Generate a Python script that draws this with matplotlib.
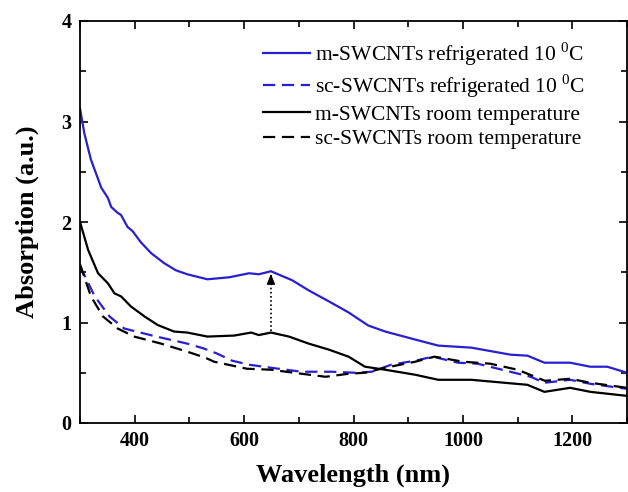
import numpy as np
import matplotlib
matplotlib.use("Agg")
import matplotlib.pyplot as plt
from matplotlib.ticker import MultipleLocator

plt.rcParams['font.family'] = ['Liberation Serif', 'DejaVu Serif']
plt.rcParams['mathtext.fontset'] = 'custom'
plt.rcParams['mathtext.rm'] = 'Liberation Serif'

# m-SWCNTs refrigerated 10 °C
wl_m_ref = [300, 308, 320, 339, 351, 357, 369, 375, 387, 396, 411, 430, 454, 475, 496, 533, 573, 609, 627, 649,
            688, 718, 755, 791, 827, 858, 913, 955, 1015, 1087, 1118, 1149, 1196, 1233, 1264, 1300]
ab_m_ref = [3.13, 2.88, 2.62, 2.34, 2.24, 2.15, 2.09, 2.07, 1.95, 1.91, 1.80, 1.69, 1.59, 1.52, 1.48, 1.43, 1.45, 1.49, 1.48, 1.51,
            1.42, 1.32, 1.21, 1.10, 0.97, 0.91, 0.83, 0.77, 0.75, 0.68, 0.67, 0.60, 0.60, 0.56, 0.56, 0.50]

# sc-SWCNTs refrigerated 10 °C
wl_sc_ref = [300, 327, 354, 381, 436, 496, 527, 551, 578, 609, 649, 705, 760, 803, 833, 869, 913, 945,
             991, 1027, 1094, 1124, 1149, 1196, 1233, 1300]
ab_sc_ref = [1.56, 1.26, 1.06, 0.94, 0.865, 0.79, 0.74, 0.69, 0.62, 0.58, 0.55, 0.51, 0.51, 0.50, 0.51, 0.58, 0.62, 0.66,
             0.60, 0.59, 0.50, 0.46, 0.40, 0.43, 0.39, 0.34]

# m-SWCNTs room temperature
wl_m_rt = [300, 315, 333, 351, 363, 375, 393, 418, 442, 472, 496, 533, 582, 613, 627, 649, 682, 718,
           755, 791, 821, 858, 913, 955, 1015, 1118, 1149, 1196, 1233, 1300]
ab_m_rt = [2.0, 1.72, 1.49, 1.39, 1.29, 1.26, 1.16, 1.06, 0.975, 0.91, 0.90, 0.86, 0.87, 0.90, 0.875, 0.90, 0.86, 0.79,
           0.73, 0.66, 0.56, 0.53, 0.48, 0.43, 0.43, 0.38, 0.31, 0.35, 0.31, 0.27]

# sc-SWCNTs room temperature
wl_sc_rt = [300, 320, 342, 369, 399, 448, 496, 529, 545, 605, 649, 705, 749, 791, 821, 858, 913,
            948, 1000, 1050, 1100, 1150, 1196, 1233, 1300]
ab_sc_rt = [1.58, 1.26, 1.06, 0.94, 0.86, 0.79, 0.71, 0.65, 0.61, 0.54, 0.53, 0.49, 0.46, 0.49, 0.50, 0.55, 0.61,
            0.66, 0.61, 0.59, 0.53, 0.42, 0.44, 0.40, 0.35]

labels = ['m-SWCNTs refrigerated 10 $^{0}$C', 'sc-SWCNTs refrigerated 10 $^{0}$C',
          'm-SWCNTs room temperature', 'sc-SWCNTs room temperature']

arrow_x = 649
arrow_y0 = 0.92
arrow_y1 = 1.51

blue = '#2a1fd0'
dash = (5.5, 3.0)

fig = plt.figure(figsize=(6.28, 4.92), dpi=100)
ax = fig.add_axes([80/628, 69/492, 547/628, 402/492])

ax.plot(wl_m_ref, ab_m_ref, color=blue, lw=1.6, label=labels[0])
ax.plot(wl_sc_ref, ab_sc_ref, color=blue, lw=1.6, ls=(0, dash), label=labels[1])
ax.plot(wl_m_rt, ab_m_rt, color='black', lw=1.6, label=labels[2])
ax.plot(wl_sc_rt, ab_sc_rt, color='black', lw=1.6, ls=(0, dash), label=labels[3])

ax.plot([arrow_x, arrow_x], [arrow_y0, arrow_y1 - 0.06], color='black', lw=1.2, ls=(0, (1, 1.5)))
ax.annotate('', xy=(arrow_x, arrow_y1), xytext=(arrow_x, arrow_y1 - 0.08),
            arrowprops=dict(arrowstyle='-|>,head_length=0.6,head_width=0.25', color='black', lw=1.0))

ax.set_xlim(300, 1300)
ax.set_ylim(0, 4)
ax.xaxis.set_major_locator(MultipleLocator(200))
ax.xaxis.set_minor_locator(MultipleLocator(100))
ax.yaxis.set_major_locator(MultipleLocator(1))
ax.yaxis.set_minor_locator(MultipleLocator(0.5))
ax.tick_params(which='both', direction='in', top=True, right=True, width=1.2)
ax.tick_params(which='major', length=5.5, labelsize=14.5, pad=6)
ax.tick_params(which='minor', length=4)
for lab in ax.get_xticklabels() + ax.get_yticklabels():
    lab.set_fontweight('bold')
for s in ax.spines.values():
    s.set_linewidth(1.3)

ax.set_xlabel('Wavelength (nm)', fontsize=19, fontweight='bold', labelpad=9)
ax.set_ylabel('Absorption (a.u.)', fontsize=19, fontweight='bold', labelpad=16)

leg = ax.legend(loc='upper right', bbox_to_anchor=(0.946, 0.985), frameon=False, fontsize=15.5,
                handlelength=2.2, handletextpad=0.2, labelspacing=0.22, borderaxespad=0.2)

fig.savefig('out.png', dpi=100)
